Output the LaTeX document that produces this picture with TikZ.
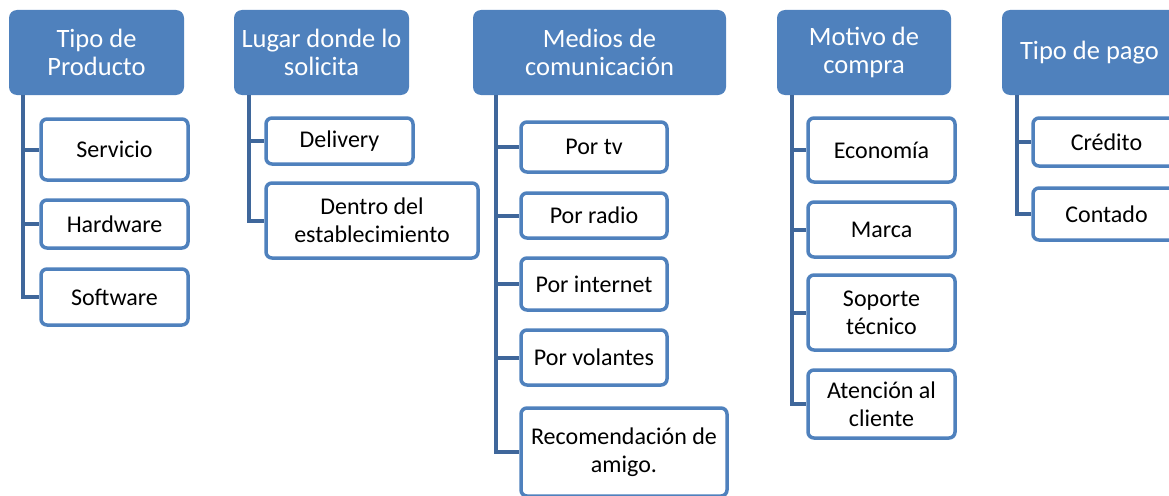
\documentclass[tikz,border=0pt]{standalone}
\usepackage{fontspec}
\setmainfont{Carlito}
\usetikzlibrary{calc}
\definecolor{accent}{HTML}{4F81BD}
\definecolor{trunk}{HTML}{3F679B}
\tikzset{
  head/.style={fill=accent, rounded corners=8pt, text=white, align=center, inner sep=0pt, font=\fontsize{26.5}{28.5}\selectfont},
  item/.style={draw=accent, fill=white, line width=3.5pt, rounded corners=6pt, text=black, align=center, inner sep=0pt, font=\fontsize{24}{28}\selectfont},
  link/.style={draw=trunk, line width=4pt},
}

\begin{document}
\begin{tikzpicture}[x=1pt, y=-1pt]
  \clip (0,0) rectangle (1169,495);

  % headers
  \node[head, minimum width=175pt, minimum height=85pt] (h1) at (96.5,52.5) {Tipo de\\Producto};
  \node[head, minimum width=175pt, minimum height=85pt] (h2) at (321.5,52.5) {Lugar donde lo\\solicita};
  \node[head, minimum width=253pt, minimum height=85pt] (h3) at (599.5,52.5) {Medios de\\comunicación};
  \node[head, minimum width=174pt, minimum height=85pt] (h4) at (864,52.5) {Motivo de\\compra};
  \node[head, minimum width=175pt, minimum height=85pt] (h5) at (1089.5,52.5) {Tipo de pago};

  \coordinate (t1) at (23,95);
  \coordinate (t2) at (249,95);
  \coordinate (t3) at (496,95);
  \coordinate (t4) at (792,95);
  \coordinate (t5) at (1017,95);

  % items
  \node[item, minimum width=147pt, minimum height=61pt] (c11) at (114.5,149.5) {Servicio};
  \node[item, minimum width=147pt, minimum height=48pt] (c12) at (114.5,224) {Hardware};
  \node[item, minimum width=147pt, minimum height=56pt] (c13) at (114.5,297) {Software};

  \node[item, minimum width=147pt, minimum height=46pt] (c21) at (339.5,141) {Delivery};
  \node[item, minimum width=212pt, minimum height=75pt] (c22) at (372,220.5) {Dentro del\\establecimiento};

  \node[item, minimum width=146pt, minimum height=50pt] (c31) at (594,147) {Por tv};
  \node[item, minimum width=146pt, minimum height=45pt] (c32) at (594,215.5) {Por radio};
  \node[item, minimum width=146pt, minimum height=52pt] (c33) at (594,284) {Por internet};
  \node[item, minimum width=146pt, minimum height=55pt] (c34) at (594,357.5) {Por volantes};
  \node[item, minimum width=206pt, minimum height=88pt] (c35) at (624,452) {Recomendación de\\amigo.};

  \node[item, minimum width=147pt, minimum height=64pt] (c41) at (881.5,150) {Economía};
  \node[item, minimum width=147pt, minimum height=55pt] (c42) at (881.5,229.5) {Marca};
  \node[item, minimum width=147pt, minimum height=75pt] (c43) at (881.5,312.5) {Soporte\\técnico};
  \node[item, minimum width=147pt, minimum height=68pt] (c44) at (881.5,404) {Atención al\\cliente};

  \node[item, minimum width=147pt, minimum height=48pt] (c51) at (1106.5,142) {Crédito};
  \node[item, minimum width=147pt, minimum height=52pt] (c52) at (1106.5,214) {Contado};

  % links
  \foreach \c in {c11,c12,c13} \draw[link] (t1) |- (\c.west);
  \foreach \c in {c21,c22} \draw[link] (t2) |- (\c.west);
  \foreach \c in {c31,c32,c33,c34,c35} \draw[link] (t3) |- (\c.west);
  \foreach \c in {c41,c42,c43,c44} \draw[link] (t4) |- (\c.west);
  \foreach \c in {c51,c52} \draw[link] (t5) |- (\c.west);
\end{tikzpicture}
\end{document}
